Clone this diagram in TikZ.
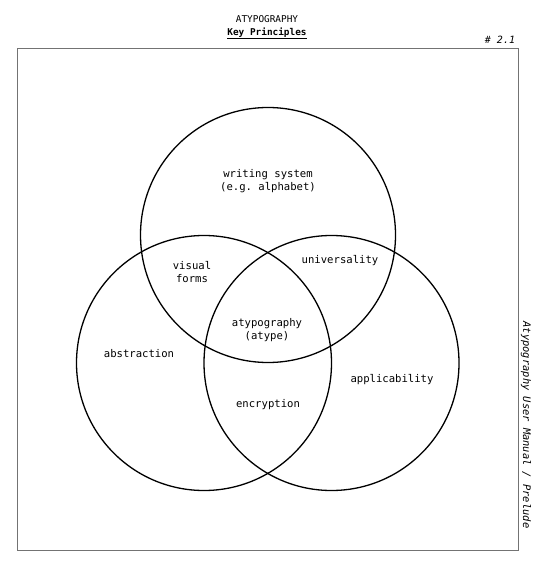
\documentclass[tikz,border=0pt]{standalone}
\usepackage{fontspec}
\setmonofont{DejaVu Sans Mono}
\usepackage{xcolor}
\usepackage{tikz}
\usetikzlibrary{positioning}

\begin{document}
\begin{tikzpicture}[
  x=1pt,
  y=-1pt,
  ring/.style={
    draw,
    circle,
    line width=1.3pt,
    minimum size=255pt,
    inner sep=0pt
  },
  label/.style={
    align=center,
    font=\fontsize{10.6}{13}\selectfont\ttfamily
  },
  frame/.style={
    draw=black!55,
    line width=1pt
  }
]
\useasboundingbox (0,0) rectangle (547,561);
\draw[frame] (17.5,48.5) rectangle (518,550);
\node[label,font=\fontsize{9.4}{13}\selectfont\ttfamily] (title) at (267,19) {ATYPOGRAPHY};
\node[label,font=\fontsize{9.4}{13}\selectfont\ttfamily\bfseries,below=-2pt of title] (subtitle) {\underline{Key Principles}};
\node[label,font=\fontsize{10}{12}\selectfont\ttfamily\itshape] (number) at (500,40) {\# 2.1};
\node[label,font=\fontsize{10.4}{12}\selectfont\ttfamily\itshape,rotate=-90] (manual) at (526,425) {Atypography User Manual / Prelude};
% the three circles
\node[ring] (writing) at (268,235) {};
\node[ring] (abstract) at (204,363) {};
\node[ring] (apply) at (331.5,363) {};
% labels
\node[label] (system) at (268,181) {writing system\\(e.g. alphabet)};
\node[label] (visual) at (192,272) {visual\\forms};
\node[label] (universal) at (340,261) {universality};
\node[label] (atype) at (267,330) {atypography\\(atype)};
\node[label] (abstraction) at (139,354) {abstraction};
\node[label] (applicability) at (392,380) {applicability};
\node[label] (encryption) at (268,405) {encryption};
\end{tikzpicture}
\end{document}
